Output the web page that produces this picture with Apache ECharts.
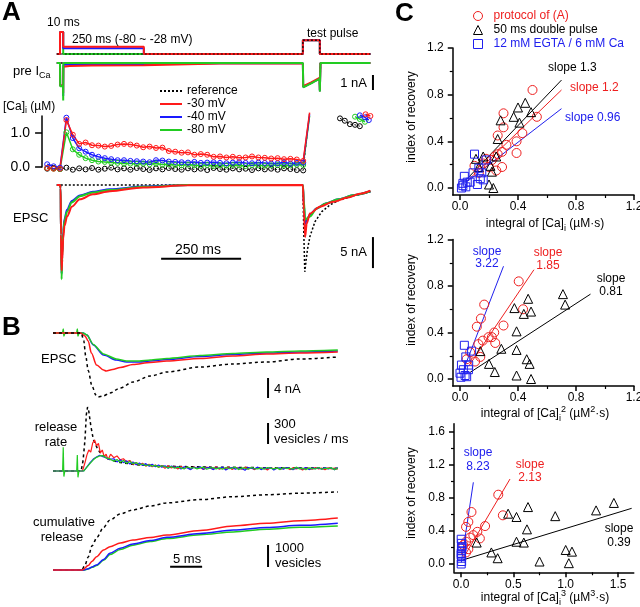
<!DOCTYPE html>
<html><head><meta charset="utf-8">
<script src="https://cdn.jsdelivr.net/npm/echarts@6/dist/echarts.min.js"></script>
<style>html,body{margin:0;padding:0;background:#fff}#c{width:640px;height:607px}</style>
</head><body><div id="c"></div>
<script>
// ---------------- DATA ----------------
// Panel A: voltage protocol (t in ms, mV)
const protoT     = [-10, 0, 0, 10, 10, 262, 262, 759, 759, 812, 812, 970];
const protoRed   = [-80, -80, 70, 70, -30, -30, -80, -80, 15, 15, -80, -80];
const protoBlue  = [-80, -80, 70, 70, -40, -40, -80, -80, 15, 15, -80, -80];
const protoGreen = [-80, -80, 70, 70, -80, -80, -80, -80, 15, 15, -80, -80];
const protoRefT  = [-10, 759, 759, 812, 812, 970];
const protoRef   = [-80, -80, 15, 15, -80, -80];
// Panel A: presynaptic Ca current (nA)
const icaT     = [-10, 0, 0.5, 9.5, 10, 10.5, 30, 100, 262, 263, 500, 759, 760, 785, 811, 812, 814, 970];
const icaRed   = [0, 0, -1.5, -1.5, -2.0, -0.25, -0.2, -0.17, -0.15, -0.05, -0.03, -0.03, -1.55, -1.3, -1.0, -1.8, 0, 0];
const icaBlue  = [0, 0, -1.5, -1.5, -2.2, -0.12, -0.1, -0.09, -0.08, -0.02, -0.02, -0.02, -1.6, -1.33, -1.03, -1.85, 0, 0];
const icaGreen = [0, 0, -1.55, -1.55, -2.5, 0, 0, 0, 0, 0, 0, 0, -1.62, -1.36, -1.05, -1.9, 0, 0];
const icaRefT  = [-10, 759, 760, 785, 811, 812, 814, 970];
const icaRef   = [0, 0, -1.6, -1.35, -1.05, -1.9, 0, 0];
// Panel A: [Ca]i (uM)
const caT = [-40,-20,0,20,40,60,80,100,120,140,160,180,200,220,240,260,280,300,320,340,360,380,400,420,440,460,480,500,520,540,560,580,600,620,640,660,680,700,720,740,760,780];
const caRed   = [-0.03,-0.05,-0.05,1.38,0.95,0.68,0.72,0.64,0.63,0.60,0.62,0.66,0.68,0.66,0.63,0.58,0.60,0.56,0.57,0.47,0.45,0.42,0.43,0.36,0.38,0.36,0.30,0.31,0.28,0.30,0.27,0.28,0.31,0.28,0.27,0.25,0.26,0.23,0.24,0.22,0.18,1.6];
const caBlue  = [0.08,0.02,-0.02,1.45,0.85,0.55,0.45,0.36,0.30,0.26,0.23,0.20,0.20,0.18,0.17,0.16,0.14,0.20,0.19,0.16,0.15,0.14,0.13,0.15,0.12,0.13,0.14,0.12,0.11,0.13,0.14,0.12,0.11,0.13,0.12,0.10,0.11,0.13,0.10,0.12,0.13,1.55];
const caGreen = [-0.03,-0.05,-0.06,1.02,0.52,0.36,0.26,0.20,0.16,0.15,0.13,0.12,0.10,0.10,0.09,0.10,0.08,0.10,0.07,0.08,0.06,0.05,0.07,0.05,0.04,0.06,0.03,0.05,0.04,0.06,0.05,0.03,0.06,0.05,0.04,0.05,0.06,0.04,0.05,0.07,0.06,1.5];
const caRef   = [-0.05,-0.03,-0.06,-0.02,-0.08,-0.04,-0.07,-0.03,-0.08,-0.05,-0.02,-0.07,-0.04,-0.08,-0.03,-0.06,-0.09,-0.04,-0.07,-0.03,-0.06,-0.08,-0.04,-0.07,-0.05,-0.09,-0.03,-0.06,-0.08,-0.04,-0.07,-0.05,-0.09,-0.04,-0.07,-0.05,-0.08,-0.04,-0.06,-0.09,-0.1,1.6];
const caRedPostT = [955, 970],           caRedPost = [1.55, 1.5];
const caBluePostT = [937, 953, 965],     caBluePost = [1.52, 1.46, 1.38];
const caGreenPostT = [922, 937, 953],    caGreenPost = [1.48, 1.41, 1.33];
const caRefPostT = [875, 890, 906, 922, 937], caRefPost = [1.43, 1.36, 1.26, 1.24, 1.2];
// Panel A: EPSC (nA)
const epscARedT = [-10,0,2,3,5,7,10,14,22,37,62,103,156,260,400,759,762,766,771,781,812,854,900,937,970];
const epscARed  = [0,0,-0.5,-8,-13.8,-12,-8.6,-6.6,-5.1,-3.5,-2.3,-1.5,-1.0,-0.4,-0.05,0,-4,-8.4,-6.2,-4.6,-3.5,-2.7,-2.0,-1.4,-0.9];
const epscABGT  = [-10,0,2,3,5,7,10,14,22,37,62,103,156,260,400,759,762,766,771,781,802,830,870,920,970];
const epscABlue = [0,0,-0.5,-8,-14.3,-11,-7.5,-5.5,-4.0,-2.6,-1.7,-1.1,-0.7,-0.25,0,0,-3,-6.3,-5.6,-4.8,-3.8,-3.0,-2.3,-1.6,-1.0];
const epscAGreen= [0,0,-0.5,-8,-15.2,-11.5,-7.8,-5.8,-4.3,-2.8,-1.8,-1.2,-0.8,-0.3,0,0,-2.5,-5.6,-5.4,-5.1,-3.8,-3.0,-2.3,-1.6,-1.0];
const epscARefT = [-10,759,762,765,773,781,797,818,844,870,920,970];
const epscARef  = [0,0,-8,-14,-10.5,-8.3,-5.9,-4.3,-3.2,-2.5,-1.7,-1.1];
// Panel B: EPSC (ms, nA)
const bEpscRefT = [0,4.4,4.8,5.1,5.5,6.1,6.7,7.0,7.8,8.9,10.5,12.5,15.2,17.8,23.0,28.1,33.4,38.6,44.5];
const bEpscRef  = [0,0,-1.5,-4.5,-7.5,-10.6,-12.4,-12.8,-12.6,-12.0,-11.0,-9.8,-8.6,-7.8,-6.8,-6.2,-5.8,-5.2,-4.8];
const bEpscRedT = [0,4.3,5.0,5.5,6.0,6.8,7.9,8.3,9.3,10.5,12.5,15.2,17.8,23.0,28.1,33.4,38.6,44.5];
const bEpscRed  = [0,0,-0.6,-1.6,-4.0,-6.4,-7.4,-7.6,-7.3,-6.9,-6.3,-5.9,-5.6,-5.1,-4.6,-4.2,-4.0,-3.8];
const bEpscBlueT= [0,4.7,5.3,6.3,7.9,9.9,11.5,13.5,15.2,17.8,23.0,28.1,33.4,38.6,44.5];
const bEpscBlue = [0,0,-0.4,-2.4,-4.4,-5.4,-5.8,-5.8,-5.6,-5.3,-4.7,-4.3,-4.0,-3.8,-3.6];
const bEpscGreenT=[0,1.5,1.6,1.7,1.85,3.7,3.8,3.9,4.05,4.7,5.3,6.3,7.9,9.9,11.5,13.5,15.2,17.8,23.0,28.1,33.4,38.6,44.5];
const bEpscGreen= [0,0,0.8,-0.6,0,0,0.8,-0.6,0,0,-0.4,-2.3,-4.2,-5.2,-5.6,-5.6,-5.4,-5.1,-4.5,-4.1,-3.8,-3.6,-3.4];
// Panel B: release rate (vesicles/ms)
const rateRefT   = [0,4.4,4.7,5.0,5.2,5.4,5.6,5.9,6.3,6.9,7.3,8.0,9.0,10.5,13,17,25,35,44.5];
const rateRef    = [0,0,150,450,800,914,850,650,450,330,270,210,160,120,90,70,55,45,40];
const rateRedOnT = [0,4.6,5.0,5.3,5.6,5.9,6.2,6.5,6.8,7.1,7.4,7.7,8.0,8.3,8.6];
const rateRedOn  = [0,0,120,230,300,270,400,443,360,395,260,300,205,240,160];
const rateBlueOnT= [0,4.8,5.3,5.8,6.3,6.8,7.3,7.8,8.3,8.7];
const rateBlueOn = [0,0,60,120,170,200,225,205,190,165];
const rateGreenOnT=[0,1.5,1.6,1.7,1.85,3.7,3.8,3.9,4.05,4.8,5.3,5.8,6.3,6.8,7.3,7.8,8.3,8.7];
const rateGreenOn= [0,0,340,-80,0,0,230,-90,0,0,55,110,160,195,215,220,185,180];
const rateT = [9,9.5,10,10.5,11,11.5,12,12.5,13,13.5,14,14.5,15,15.5,16,16.5,17,17.5,18,18.5,19,19.5,20,20.5,21,21.5,22,22.5,23,23.5,24,24.5,25,25.5,26,26.5,27,27.5,28,28.5,29,29.5,30,30.5,31,31.5,32,32.5,33,33.5,34,34.5,35,35.5,36,36.5,37,37.5,38,38.5,39,39.5,40,40.5,41,41.5,42,42.5,43,43.5,44,44.5];
const rateRed   = [240,190,215,160,175,130,150,95,120,85, 110,70,95,60,85,55,75,40,70,45, 60,30,65,40,55,25,60,35,50,20, 55,40,30,60,25,45,35,55,20,50, 40,25,55,30,45,20,50,35,40,15, 50,30,45,25,40,50,20,45,30,40, 15,45,35,25,50,30,40,20,45,30, 40,25];
const rateBlue  = [150,175,130,160,120,145,100,130,90,115, 80,105,70,95,60,85,55,75,40,70, 50,65,30,60,45,20,55,40,60,25, 45,50,20,45,35,55,15,40,50,25, 45,35,10,50,40,30,55,20,45,35, 50,15,40,45,25,50,35,20,45,40, 30,50,20,40,35,45,25,50,30,40, 20,45];
const rateGreen = [170,140,165,125,150,110,135,105,120,85, 100,75,90,70,80,55,75,60,45,65, 40,55,45,30,60,40,50,30,45,55, 25,40,50,30,45,25,50,35,40,55, 20,45,40,25,50,35,30,45,25,50, 40,30,45,20,50,35,40,25,55,30, 40,20,45,35,30,50,25,40,35,45, 20,40];
// Panel B: cumulative release (vesicles)
const cumRefT = [0,4.5,5.0,5.5,6.1,6.9,7.8,8.9,10.5,12.5,15.2,17.8,23.0,28.1,33.4,38.6,44.5];
const cumRef  = [0,0,230,590,1100,1500,1900,2270,2550,2730,2910,3050,3200,3330,3420,3490,3550];
const cumRedT = [0,4.6,5.5,6.1,6.8,7.9,8.9,10.5,12.5,15.2,17.8,23.0,28.2,33.4,38.6,44.5];
const cumRed  = [0,0,200,400,600,910,1060,1230,1364,1480,1590,1800,2000,2130,2240,2360];
const cumBGT  = [0,4.8,5.5,6.1,6.8,7.9,8.9,10.5,12.5,15.2,17.8,23.0,28.2,33.4,38.6,44.5];
const cumBlue = [0,0,60,140,230,480,760,990,1180,1340,1486,1660,1818,1930,2030,2130];
const cumGreen= [0,0,50,120,200,440,700,930,1130,1290,1430,1600,1730,1850,1940,2000];
// Panel C: index of recovery vs integral of [Ca]i^n
const c1Red   = [[0.50,0.84],[0.53,0.61],[0.30,0.64],[0.30,0.52],[0.26,0.45],[0.43,0.47],[0.39,0.40],[0.39,0.30],[0.32,0.37],[0.29,0.31],[0.26,0.29],[0.24,0.27],[0.29,0.18],[0.25,0.15],[0.16,0.21],[0.10,0.19],[0.20,0.18],[0.13,0.13],[0.18,0.25],[0.22,0.24]];
const c1Black = [[0.45,0.73],[0.40,0.69],[0.37,0.61],[0.28,0.58],[0.41,0.56],[0.49,0.65],[0.26,0.42],[0.25,0.27],[0.16,0.27],[0.11,0.25],[0.21,0.19],[0.22,0.14],[0.13,0.18],[0.20,0.03],[0.23,0.0]];
const c1Blue  = [[0.10,0.29],[0.18,0.24],[0.13,0.17],[0.09,0.13],[0.15,0.13],[0.14,0.08],[0.16,0.07],[0.12,0.03],[0.03,0.10],[0.02,0.04],[0.05,0.05],[0.02,0.02],[0.04,0.01],[0.07,0.05],[0.01,0.0]];
const c2Red   = [[0.405,0.84],[0.435,0.60],[0.167,0.64],[0.144,0.52],[0.116,0.45],[0.30,0.46],[0.236,0.40],[0.197,0.36],[0.157,0.33],[0.127,0.30],[0.243,0.31],[0.07,0.23],[0.14,0.19],[0.104,0.15],[0.046,0.17],[0.22,0.36]];
const c2Black = [[0.71,0.73],[0.725,0.64],[0.47,0.69],[0.375,0.61],[0.44,0.56],[0.49,0.58],[0.39,0.41],[0.39,0.25],[0.285,0.26],[0.14,0.24],[0.46,0.17],[0.48,0.13],[0.20,0.13],[0.24,0.06],[0.39,0.03],[0.49,0.0]];
const c2Blue  = [[0.03,0.29],[0.08,0.24],[0.04,0.19],[0.01,0.12],[0.06,0.12],[0.023,0.08],[0.058,0.08],[0.0,0.05],[0.035,0.03],[0.007,0.015],[0.046,0.02]];
const c3Red   = [[0.356,0.84],[0.40,0.59],[0.10,0.63],[0.07,0.51],[0.048,0.45],[0.23,0.46],[0.156,0.39],[0.118,0.35],[0.18,0.31],[0.086,0.32],[0.048,0.27],[0.022,0.23],[0.07,0.18],[0.048,0.14]];
const c3Black = [[1.46,0.74],[1.29,0.65],[0.64,0.69],[0.45,0.61],[0.53,0.57],[0.90,0.58],[0.63,0.42],[0.53,0.27],[0.60,0.26],[0.15,0.26],[1.00,0.17],[1.06,0.15],[0.29,0.14],[0.35,0.07],[0.75,0.03],[1.03,0.01]];
const c3Blue  = [[0.002,0.30],[0.006,0.25],[0.004,0.19],[0.002,0.13],[0.004,0.07],[0.006,0.03],[0.002,0.11],[0.006,0.16],[0.002,0.0],[0.005,0.09],[0.01,0.21]];
// fitted lines
const fit1Black = [[0.05,0.08],[0.70,0.925]], fit1Red = [[0.05,0.06],[0.70,0.84]], fit1Blue = [[0.05,0.056],[0.70,0.68]];
const fit2Blue = [[0.04,0.13],[0.30,0.97]], fit2Red = [[0.06,0.11],[0.51,0.94]], fit2Black = [[0.07,0.057],[0.90,0.73]];
const fit3Blue = [[0.003,0.02],[0.118,0.99]], fit3Red = [[0.03,0.09],[0.468,1.03]], fit3Black = [[0.02,0.05],[1.63,0.675]];
// axis ticks for panel C
const c1Ticks = [0, 0.4, 0.8, 1.2], c1Minor = [0.2, 0.6, 1.0];
const c3XTicks = [0, 0.5, 1.0, 1.5], c3XMinor = [0.25, 0.75, 1.25];
const c3YTicks = [0, 0.4, 0.8, 1.2, 1.6], c3YMinor = [0.2, 0.6, 1.0, 1.4];
const caTicks = [0, 1.0];
// scale bars (data units)
const sbA250ms = [[316,-11.9],[566,-11.9]];
const sbA5nA   = [[978,-8.4],[978,-13.4]];
const sbA1nA   = [[978,-0.8],[978,-1.8]];
const sbB4nA   = [[33.6,-9],[33.6,-13]];
const sbB300   = [[33.6,386],[33.6,686]];
const sbB1000  = [[33.6,136],[33.6,1136]];
const sbB5ms   = [[18.3,150],[23.3,150]];

// ---------------- BUILD ----------------
const FONT = 'Liberation Sans, Arial, sans-serif';
const RED = '#ff1a1a', BLUE = '#1a1aff', GREEN = '#22cc22', BLACK = '#000';
const RC = '#ee2020', BC = '#2020ee';
const zip = (xs, ys) => xs.map((x, i) => [x, ys[i]]);

// layout
const aX0 = 60, aS = 0.32;      // panel A: px of t=0, px per ms
const bX0 = 53, bS = 6.4;       // panel B
function gridA(top, height, tmin) { return {left: aX0 + aS * tmin, width: aS * (1000 - tmin), top, height}; }
const grids = [
  gridA(54 - 0.146 * 160, 170 * 0.146, -60),    // 0 protocol
  gridA(63 - 0.6 * 15, 3.4 * 15, -60),          // 1 ICa
  gridA(167 - 1.5 * 34, 1.5 * 34, -56),         // 2 Ca
  gridA(185 - 6.2, 17 * 6.2, -60),              // 3 EPSC A
  {left: bX0, width: 46 * bS, top: 333 - 5, height: 15 * 5},        // 4 EPSC B
  {left: bX0, width: 46 * bS, top: 471 - 70, height: 1100 * 0.07},  // 5 rate
  {left: bX0, width: 46 * bS, top: 570 - 88, height: 4200 * 0.022}, // 6 cumulative
  {left: 460 - 0.05 * 145, width: 1.25 * 145, top: 188 - 1.2 * 116.7, height: 1.26 * 116.7},   // 7 C1
  {left: 460 - 0.05 * 145, width: 1.25 * 145, top: 379 - 1.2 * 116.25, height: 1.26 * 116.25}, // 8 C2
  {left: 461 - 0.067 * 104.7, width: 1.717 * 104.7, top: 564 - 1.7 * 82.5, height: 1.8 * 82.5}  // 9 C3
].map(g => Object.assign({containLabel: false, outerBoundsMode: 'none', show: false}, g));

const hid = (g, min, max) => ({type: 'value', gridIndex: g, min, max, show: false});
const fmt = v => v.toFixed(1);
function visAxis(g, min, max, ticks, pos, margin, size) {
  return {type: 'value', gridIndex: g, min, max, position: pos,
    axisLine: {show: true, onZero: false, lineStyle: {color: '#000', width: 1.5}},
    axisTick: {show: true, customValues: ticks, length: 5, lineStyle: {color: '#000', width: 1.5}},
    axisLabel: {show: true, customValues: ticks, formatter: fmt, color: '#000', fontSize: size || 12, fontFamily: FONT, margin},
    splitLine: {show: false}};
}
function minorAxis(g, min, max, ticks, pos) {
  return {type: 'value', gridIndex: g, min, max, position: pos,
    axisLine: {show: false, onZero: false}, axisLabel: {show: false},
    axisTick: {show: true, customValues: ticks, length: 3, lineStyle: {color: '#000', width: 1.2}},
    splitLine: {show: false}};
}
const caAxis = visAxis(2, 0, 1.5, caTicks, 'left', 12, 14);
caAxis.axisTick.length = 7;

const xAxes = [hid(0,-60,1000), hid(1,-60,1000), hid(2,-56,1000), hid(3,-60,1000),
  hid(4,0,46), hid(5,0,46), hid(6,0,46),
  visAxis(7,-0.05,1.2,c1Ticks,'bottom',6), visAxis(8,-0.05,1.2,c1Ticks,'bottom',6), visAxis(9,-0.067,1.65,c3XTicks,'bottom',6),
  minorAxis(7,-0.05,1.2,c1Minor,'bottom'), minorAxis(8,-0.05,1.2,c1Minor,'bottom'), minorAxis(9,-0.067,1.65,c3XMinor,'bottom')];
const yAxes = [hid(0,-90,80), hid(1,-2.8,0.6), caAxis, hid(3,-16,1),
  hid(4,-14,1), hid(5,-100,1000), hid(6,-200,4000),
  visAxis(7,-0.06,1.2,c1Ticks,'left',9), visAxis(8,-0.06,1.2,c1Ticks,'left',9), visAxis(9,-0.1,1.7,c3YTicks,'left',9),
  minorAxis(7,-0.06,1.2,c1Minor,'left'), minorAxis(8,-0.06,1.2,c1Minor,'left'), minorAxis(9,-0.1,1.7,c3YMinor,'left')];

function ln(name, g, data, color, o) {
  o = o || {};
  return {type: 'line', name, xAxisIndex: g, yAxisIndex: g, data, symbol: 'none', showSymbol: false,
    silent: true, clip: o.clip !== undefined ? o.clip : true, z: o.z || 2,
    smooth: o.smooth || false, smoothMonotone: o.smooth ? 'x' : undefined,
    lineStyle: {color, width: o.w || 1.5, type: o.type || 'solid'}, itemStyle: {color}};
}
function caLn(name, g, data, color, dash) {
  return {type: 'line', name, xAxisIndex: g, yAxisIndex: g, data, symbol: 'circle', symbolSize: 5, showSymbol: true,
    silent: true, clip: false, connectNulls: false, z: 3,
    lineStyle: {color, width: dash ? 1 : 1.5, type: dash ? [2, 2] : 'solid'},
    itemStyle: {color: 'rgba(0,0,0,0)', borderColor: color, borderWidth: 1}};
}
function caData(t, v, pt, pv) {
  const d = zip(t, v).map((p, i) => i === t.length - 1 ? {value: p, symbol: 'none'} : p);
  return d.concat([[850, '-']], zip(pt, pv));
}
function sc(name, g, data, color, symbol, size) {
  return {type: 'scatter', name, xAxisIndex: g, yAxisIndex: g, data, symbol, symbolSize: size, silent: true, z: 4,
    itemStyle: {color: 'rgba(0,0,0,0)', borderColor: color, borderWidth: 1, opacity: 1}};
}
const bar = (g, d) => ln('sb', g, d, '#000', {w: 2, clip: false, z: 5});
const N1 = 'protocol of (A)', N2 = '50 ms double pulse', N3 = '12 mM EGTA / 6 mM Ca';

const series = [
  ln('-80 mV', 0, zip(protoT, protoGreen), GREEN, {w: 2}),
  ln('-40 mV', 0, zip(protoT, protoBlue), BLUE, {w: 2}),
  ln('-30 mV', 0, zip(protoT, protoRed), RED, {w: 2}),
  ln('reference', 0, zip(protoRefT, protoRef), BLACK, {w: 1.2, type: [2, 2], z: 3}),
  // ICa
  ln('reference', 1, zip(icaRefT, icaRef), BLACK, {w: 1.5, type: [2, 2]}),
  ln('-40 mV', 1, zip(icaT, icaBlue), BLUE, {w: 2}),
  ln('-30 mV', 1, zip(icaT, icaRed), RED, {w: 2}),
  ln('-80 mV', 1, zip(icaT, icaGreen), GREEN, {w: 2}),
  bar(1, sbA1nA),
  // Ca
  caLn('Ca ref', 2, caData(caT, caRef, caRefPostT, caRefPost), BLACK, true),
  caLn('Ca -80', 2, caData(caT, caGreen, caGreenPostT, caGreenPost), GREEN),
  caLn('Ca -40', 2, caData(caT, caBlue, caBluePostT, caBluePost), BLUE),
  caLn('Ca -30', 2, caData(caT, caRed, caRedPostT, caRedPost), RED),
  // EPSC A
  ln('reference', 3, zip(epscARefT, epscARef), BLACK, {w: 1.5, type: [2, 2]}),
  ln('-40 mV', 3, zip(epscABGT, epscABlue), BLUE, {w: 2, smooth: 0.3}),
  ln('-80 mV', 3, zip(epscABGT, epscAGreen), GREEN, {w: 2, smooth: 0.3}),
  ln('-30 mV', 3, zip(epscARedT, epscARed), RED, {w: 2, smooth: 0.3}),
  bar(3, sbA250ms), bar(3, sbA5nA),
  // Panel B EPSC
  ln('B-40', 4, zip(bEpscBlueT, bEpscBlue), BLUE, {w: 1.5, smooth: 0.3}),
  ln('B-80', 4, zip(bEpscGreenT, bEpscGreen), GREEN, {w: 1.5, smooth: 0.2}),
  ln('B-30', 4, zip(bEpscRedT, bEpscRed), RED, {w: 1.5, smooth: 0.3}),
  ln('Bref', 4, zip(bEpscRefT, bEpscRef), BLACK, {w: 1.5, type: [3, 3], smooth: 0.3}),
  bar(4, sbB4nA),
  // release rate
  ln('Bref', 5, zip(rateRefT, rateRef), BLACK, {w: 1.5, type: [3, 3], z: 1}),
  ln('B-30', 5, zip(rateRedOnT, rateRedOn).concat(zip(rateT, rateRed)), RED, {w: 1.2}),
  ln('B-40', 5, zip(rateBlueOnT, rateBlueOn).concat(zip(rateT, rateBlue)), BLUE, {w: 1.2}),
  ln('B-80', 5, zip(rateGreenOnT, rateGreenOn).concat(zip(rateT, rateGreen)), GREEN, {w: 1.2}),
  bar(5, sbB300),
  // cumulative
  ln('Bref', 6, zip(cumRefT, cumRef), BLACK, {w: 1.5, type: [3, 3], smooth: 0.3}),
  ln('B-80', 6, zip(cumBGT, cumGreen), GREEN, {w: 1.5, smooth: 0.3}),
  ln('B-40', 6, zip(cumBGT, cumBlue), BLUE, {w: 1.5, smooth: 0.3}),
  ln('B-30', 6, zip(cumRedT, cumRed), RED, {w: 1.5, smooth: 0.3}),
  bar(6, sbB1000), bar(6, sbB5ms),
  // Panel C
  sc(N1, 7, c1Red, RC, 'circle', 9), sc(N2, 7, c1Black, BLACK, 'triangle', 9), sc(N3, 7, c1Blue, BC, 'rect', 8),
  ln('f', 7, fit1Black, BLACK, {w: 1}), ln('f', 7, fit1Red, RC, {w: 1}), ln('f', 7, fit1Blue, BC, {w: 1}),
  sc(N1, 8, c2Red, RC, 'circle', 9), sc(N2, 8, c2Black, BLACK, 'triangle', 9), sc(N3, 8, c2Blue, BC, 'rect', 8),
  ln('f', 8, fit2Black, BLACK, {w: 1}), ln('f', 8, fit2Red, RC, {w: 1}), ln('f', 8, fit2Blue, BC, {w: 1}),
  sc(N1, 9, c3Red, RC, 'circle', 9), sc(N2, 9, c3Black, BLACK, 'triangle', 9), sc(N3, 9, c3Blue, BC, 'rect', 8),
  ln('f', 9, fit3Black, BLACK, {w: 1}), ln('f', 9, fit3Red, RC, {w: 1}), ln('f', 9, fit3Blue, BC, {w: 1})
];

// text annotations
const SUB = {fontSize: 9, fontFamily: FONT, verticalAlign: 'bottom', lineHeight: 9};
const SUP = {fontSize: 9, fontFamily: FONT, verticalAlign: 'top', lineHeight: 9};
function T(text, x, y, o) {
  o = o || {};
  return {type: 'text', x, y, rotation: o.rot || 0, silent: true, z: 10,
    style: {text, fill: o.color || '#000', fontSize: o.size || 12, fontFamily: FONT,
      fontWeight: o.bold ? 'bold' : 'normal', align: o.align || 'left', verticalAlign: 'middle',
      lineHeight: o.lh || undefined, rich: o.rich ? {s: Object.assign({}, SUB), p: Object.assign({}, SUP)} : undefined}};
}
const graphics = [
  T('A', 2, 13, {size: 26, bold: true}),
  T('10 ms', 47, 23),
  T('250 ms (-80 ~ -28 mV)', 72, 40),
  T('test pulse', 307, 34),
  T('pre I{s|Ca}', 13, 71, {size: 13, rich: true, lh: 18}),
  T('[Ca]{s|i} (µM)', 3, 107, {size: 12, rich: true, lh: 16}),
  T('EPSC', 13, 218, {size: 13}),
  T('250 ms', 175, 250, {size: 14}),
  T('1 nA', 367, 83, {size: 13, align: 'right'}),
  T('5 nA', 367, 252, {size: 13, align: 'right'}),
  T('B', 2, 328, {size: 26, bold: true}),
  T('EPSC', 41, 359, {size: 13}),
  T('release', 56, 427, {size: 13, align: 'center'}),
  T('rate', 56, 442, {size: 13, align: 'center'}),
  T('cumulative', 64, 522, {size: 13, align: 'center'}),
  T('release', 62, 537, {size: 13, align: 'center'}),
  T('4 nA', 274, 389, {size: 13}),
  T('300', 274, 424, {size: 13}),
  T('vesicles / ms', 274, 439, {size: 13}),
  T('5 ms', 173, 559, {size: 13}),
  T('1000', 275, 548, {size: 13}),
  T('vesicles', 275, 563, {size: 13}),
  T('C', 395, 14, {size: 26, bold: true}),
  T('slope 1.3', 548, 68),
  T('slope 1.2', 570, 88, {color: RC}),
  T('slope 0.96', 565, 118, {color: BC}),
  T('slope', 487, 252, {color: BC, align: 'center'}), T('3.22', 487, 264, {color: BC, align: 'center'}),
  T('slope', 548, 253, {color: RC, align: 'center'}), T('1.85', 548, 266, {color: RC, align: 'center'}),
  T('slope', 611, 279, {align: 'center'}), T('0.81', 611, 292, {align: 'center'}),
  T('slope', 478, 453, {color: BC, align: 'center'}), T('8.23', 478, 467, {color: BC, align: 'center'}),
  T('slope', 530, 465, {color: RC, align: 'center'}), T('2.13', 530, 478, {color: RC, align: 'center'}),
  T('slope', 619, 529, {align: 'center'}), T('0.39', 619, 543, {align: 'center'}),
  T('index of recovery', 412, 117, {align: 'center', rot: Math.PI / 2}),
  T('index of recovery', 412, 300, {align: 'center', rot: Math.PI / 2}),
  T('index of recovery', 412, 493, {align: 'center', rot: Math.PI / 2}),
  T('integral of [Ca]{s|i} (µM·s)', 545, 224, {align: 'center', rich: true, lh: 18}),
  T('integral of [Ca]{s|i}{p|2} (µM{p|2}·s)', 545, 414, {align: 'center', rich: true, lh: 18}),
  T('integral of [Ca]{s|i}{p|3} (µM{p|3}·s)', 545, 598, {align: 'center', rich: true, lh: 18})
];

// legend icons: plain line segments (dotted for the reference)
const DOTTED = 'path://M0,0h2v2h-2z M4,0h2v2h-2z M8,0h2v2h-2z M12,0h2v2h-2z M16,0h2v2h-2z M20,0h2v2h-2z';
const SOLID = 'path://M0,0h22v2h-22z';

const option = {
  animation: false,
  backgroundColor: '#fff',
  grid: grids,
  xAxis: xAxes,
  yAxis: yAxes,
  legend: [
    {orient: 'vertical', left: 155, top: 79.5, itemWidth: 22, itemHeight: 2, itemGap: 0, selectedMode: false,
      textStyle: {fontSize: 12, fontFamily: FONT, color: '#000', lineHeight: 13},
      data: [{name: 'reference', icon: DOTTED, itemStyle: {color: '#000'}},
             {name: '-30 mV', icon: SOLID, itemStyle: {color: RED}},
             {name: '-40 mV', icon: SOLID, itemStyle: {color: BLUE}},
             {name: '-80 mV', icon: SOLID, itemStyle: {color: GREEN}}]},
    {orient: 'vertical', left: 468, top: 4, itemWidth: 9, itemHeight: 9, itemGap: 0, selectedMode: false,
      itemStyle: {borderWidth: 1},
      textStyle: {fontSize: 12, fontFamily: FONT, lineHeight: 14, padding: [0, 0, 0, 6]},
      data: [{name: N1, textStyle: {color: RC}}, {name: N2, textStyle: {color: '#000'}}, {name: N3, textStyle: {color: BC}}]}
  ],
  graphic: {elements: graphics},
  series
};
const chart = echarts.init(document.getElementById('c'), null, {renderer: 'canvas', width: 640, height: 607});
chart.setOption(option);
</script></body></html>
